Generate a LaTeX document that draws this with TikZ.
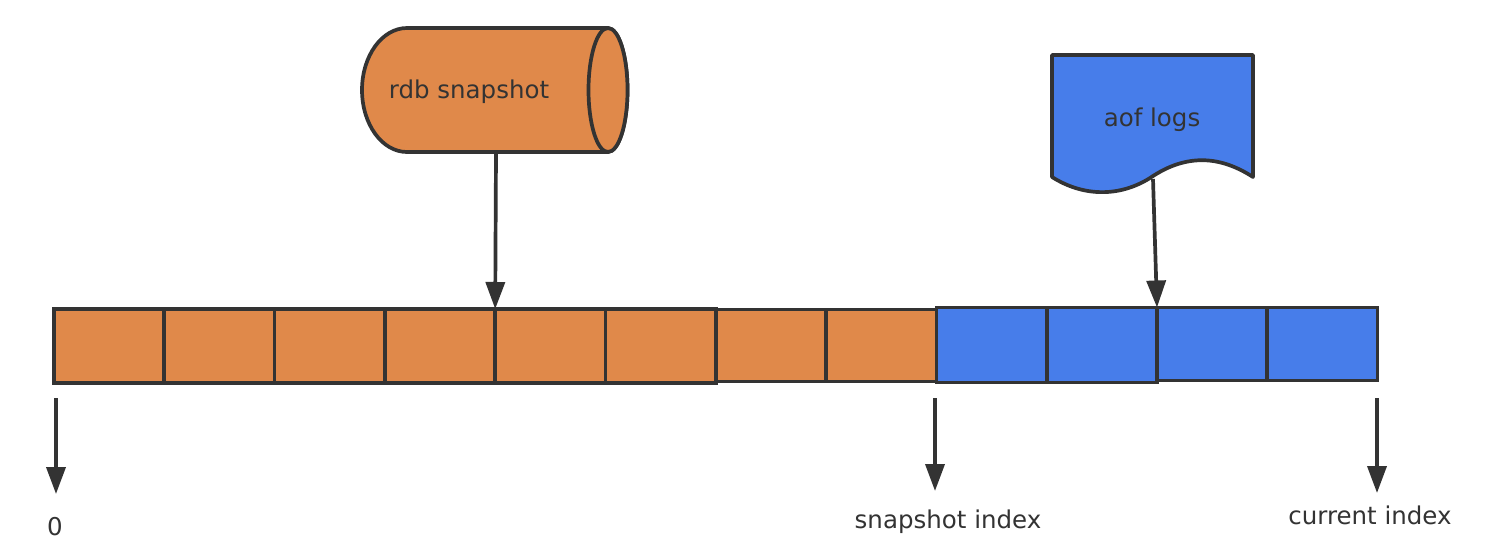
\documentclass[tikz,border=0pt]{standalone}
\usepackage{fontspec}
\setmainfont{DejaVu Sans}
\usetikzlibrary{arrows.meta}
\definecolor{ora}{HTML}{E0894A}
\definecolor{blu}{HTML}{477DEA}
\definecolor{ink}{HTML}{333333}
\tikzset{
  cell/.style={draw=ink, line width=3.7pt, minimum width=110.3pt, minimum height=74pt, inner sep=0pt, outer sep=0pt},
  ocell/.style={cell, fill=ora},
  bcell/.style={cell, fill=blu},
  arr/.style={draw=ink, line width=3.7pt, -{Triangle[length=27pt, width=19pt]}},
  lbl/.style={text=ink, font=\fontsize{24.5}{28}\selectfont, inner sep=0pt},
  shp/.style={draw=ink, line width=3.7pt, line join=round}
}
\begin{document}
\begin{tikzpicture}[x=1pt,y=-1pt]
\useasboundingbox (0,0) rectangle (1490,558);
% cells
\foreach \i/\x in {1/54,2/164.3,3/274.6,4/384.9,5/495.2,6/605.5}
  \node[ocell, anchor=north west] (o\i) at (\x,309) {};
\foreach \i/\x in {7/715.8,8/826.1}
  \node[ocell, anchor=north west, minimum height=72pt] (o\i) at (\x,309.5) {};
\foreach \i/\x in {1/936.4,2/1046.7}
  \node[bcell, anchor=north west, minimum height=75pt] (b\i) at (\x,307.5) {};
\foreach \i/\x in {3/1157,4/1267.3}
  \node[bcell, anchor=north west, minimum height=73pt] (b\i) at (\x,307.5) {};
% cylinder
\path[shp, fill=ora] (608,28) -- (407,28) arc[start angle=270, end angle=90, x radius=45, y radius=62]
  -- (608,152) arc[start angle=90, end angle=-90, x radius=19.5, y radius=62] -- cycle;
\draw[shp, fill=ora] (608,90) ellipse[x radius=19.5, y radius=62];
\node[lbl] (rdb) at (469,92) {rdb snapshot};
\coordinate (rdbb) at (496,152);
% document
\path[shp, fill=blu] (1052,55) -- (1253,55) -- (1253,177)
  .. controls (1222,157) and (1188,152) .. (1150,178)
  .. controls (1118,198) and (1082,196) .. (1052,177) -- cycle;
\node[lbl] (aof) at (1152,120) {aof logs};
\coordinate (aofb) at (1153,179);
% arrows down to bar
\draw[arr] (rdbb) -- (o5.north west);
\draw[arr] (aofb) -- (b3.north west);
% index arrows
\coordinate (s0) at (56,398);  \coordinate (e0) at (56,494);
\coordinate (s1) at (935,398); \coordinate (e1) at (935,491);
\coordinate (s2) at (1377,398); \coordinate (e2) at (1377,493);
\draw[arr] (s0) -- (e0);
\draw[arr] (s1) -- (e1);
\draw[arr] (s2) -- (e2);
\node[lbl] (l0) at (55,527) {0};
\node[lbl] (l1) at (948,522) {snapshot index};
\node[lbl] (l2) at (1370,515) {current index};
\end{tikzpicture}
\end{document}
